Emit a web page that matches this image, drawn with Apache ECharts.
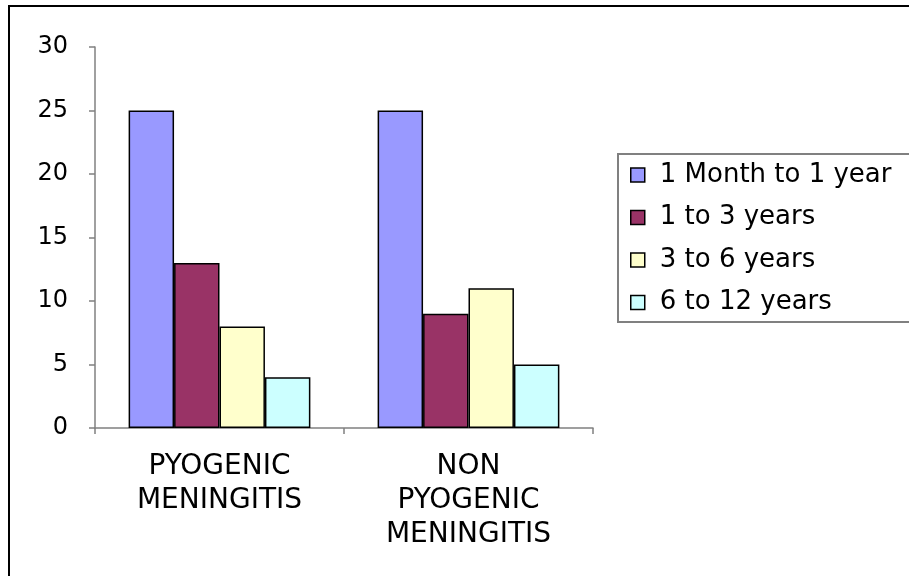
<!DOCTYPE html>
<html>
<head>
<meta charset="utf-8">
<script src="https://cdn.jsdelivr.net/npm/echarts@6/dist/echarts.min.js"></script>
<style>
html,body{margin:0;padding:0;background:#fff;}
#chart{width:909px;height:576px;}
</style>
</head>
<body>
<div id="chart"></div>
<script>
const categories = ['PYOGENIC\nMENINGITIS', 'NON\nPYOGENIC\nMENINGITIS'];
const seriesNames = ['1 Month to 1 year', '1 to 3 years', '3 to 6 years', '6 to 12 years'];
const month1to1year = [25, 25];
const years1to3 = [13, 9];
const years3to6 = [8, 11];
const years6to12 = [4, 5];
const yTicks = [0, 5, 10, 15, 20, 25, 30];

const seriesData = [month1to1year, years1to3, years3to6, years6to12];
const colors = ['#9999FF', '#993366', '#FFFFCC', '#CCFFFF'];
const FONT = 'DejaVu Sans';

const chart = echarts.init(document.getElementById('chart'));
chart.setOption({
  animation: false,
  backgroundColor: '#ffffff',
  textStyle: { fontFamily: FONT, color: '#000' },
  grid: { left: 95, right: 316, top: 47, bottom: 148, containLabel: false },
  legend: {
    orient: 'vertical',
    left: 630,
    top: 162,
    padding: 0,
    itemWidth: 14,
    itemHeight: 14,
    itemGap: 16.5,
    icon: 'rect',
    itemStyle: { borderColor: '#000', borderWidth: 1.5 },
    textStyle: { fontFamily: FONT, fontSize: 26, lineHeight: 26, color: '#000', padding: [0, 0, 0, 10] },
    data: seriesNames
  },
  graphic: [
    { type: 'line', shape: { x1: 9, y1: 5, x2: 9, y2: 576 }, style: { stroke: '#000', lineWidth: 2 } },
    { type: 'line', shape: { x1: 8, y1: 6, x2: 909, y2: 6 }, style: { stroke: '#000', lineWidth: 2 } },
    { type: 'rect', shape: { x: 618, y: 154, width: 300, height: 168 }, style: { fill: 'none', stroke: '#808080', lineWidth: 2 } }
  ],
  xAxis: {
    type: 'category',
    data: categories,
    axisLine: { lineStyle: { color: '#808080', width: 1.5 } },
    axisTick: { show: true, length: 6, alignWithLabel: false, lineStyle: { color: '#808080', width: 1.5 } },
    axisLabel: { fontFamily: FONT, fontSize: 28, lineHeight: 34, color: '#000', margin: 22, interval: 0 }
  },
  yAxis: {
    type: 'value',
    min: yTicks[0],
    max: yTicks[yTicks.length - 1],
    interval: yTicks[1] - yTicks[0],
    axisLine: { show: true, lineStyle: { color: '#808080', width: 1.5 } },
    axisTick: { show: true, length: 6, lineStyle: { color: '#808080', width: 1.5 } },
    axisLabel: { fontFamily: FONT, fontSize: 24, color: '#000', margin: 27 },
    splitLine: { show: false }
  },
  series: seriesNames.map((name, i) => ({
    name: name,
    type: 'bar',
    data: seriesData[i],
    barGap: '0%',
    barCategoryGap: '27%',
    itemStyle: { color: colors[i], borderColor: '#000', borderWidth: 1.5 }
  }))
});
</script>
</body>
</html>
